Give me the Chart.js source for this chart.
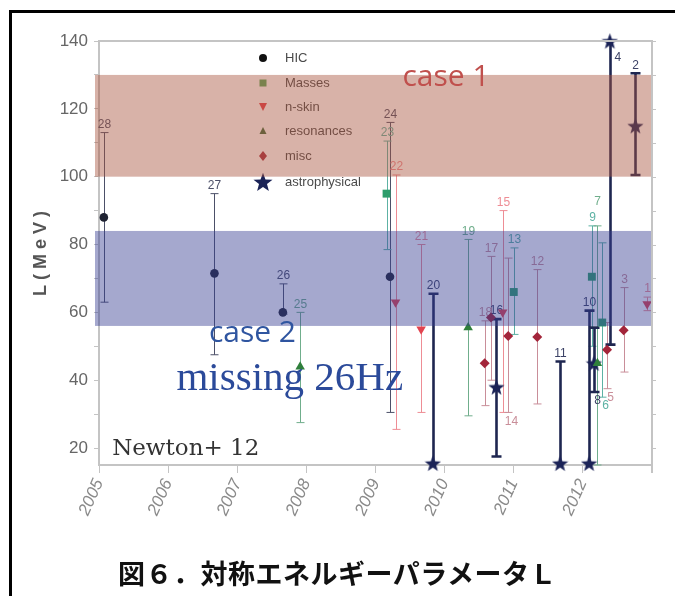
<!DOCTYPE html>
<html>
<head>
<meta charset="utf-8">
<script src="https://cdn.jsdelivr.net/npm/chart.js@4.4.1/dist/chart.umd.min.js"></script>
<style>
  html, body { margin: 0; padding: 0; background: #fff; }
  #wrap { position: relative; width: 675px; height: 596px; overflow: hidden; }
  #frame { position: absolute; left: 9px; top: 10px; width: 700px; height: 620px;
           border-top: 3px solid #000; border-left: 3px solid #000; }
  #c { position: absolute; left: 0; top: 0; }
  #caption { position: absolute; left: 0; top: 555px; width: 675px; text-align: center;
             font-family: "Noto Sans CJK JP", sans-serif; font-size: 27px; font-weight: 700;
             color: #111; line-height: 36px; letter-spacing: 0.5px; }
</style>
</head>
<body>
<div id="wrap">
  <div id="frame"></div>
  <canvas id="c" width="675" height="596"></canvas>
  <div id="caption">図６．対称エネルギーパラメータＬ</div>
</div>
<script>
// Axis ticks
const yearTicks = [2005, 2006, 2007, 2008, 2009, 2010, 2011, 2012, 2013];
const lTicks = [20, 30, 40, 50, 60, 70, 80, 90, 100, 110, 120, 130, 140];

// Shaded ranges of L (MeV)
const case1Band = [100, 130];
const case2Band = [56, 84];

// Heavy-ion collisions
const hicId   = [28, 27, 26, 24];
const hicYear = [2005.07, 2006.67, 2007.66, 2009.21];
const hicL    = [88, 71.5, 60, 70.5];
const hicLo   = [63, 47.5, 59.5, 30.5];
const hicHi   = [113, 95, 68.4, 116];

// Nuclear masses
const massId   = [23, 13, 9, 6];
const massYear = [2009.16, 2011.0, 2012.13, 2012.28];
const massL    = [95, 66, 70.5, 57];
const massLo   = [78.5, 53.5, 50, 35];
const massHi   = [110.5, 79, 85.5, 80.5];

// Neutron skin
const skinId   = [22, 21, 15, 1];
const skinYear = [2009.29, 2009.66, 2010.84, 2012.93];
const skinL    = [63, 55, 60, 62.5];
const skinLo   = [25.5, 30.5, 30.5, 60.5];
const skinHi   = [100.5, 80, 90, 64.5];

// Giant / pygmy resonances
const resId   = [25, 19, 7];
const resYear = [2007.91, 2010.34, 2012.21];
const resL    = [44, 55.5, 45];
const resLo   = [27.5, 29.5, 15];
const resHi   = [60, 81.5, 85.5];

// Miscellaneous
const miscId   = [18, 17, 14, 12, 5, 3];
const miscYear = [2010.58, 2010.67, 2010.92, 2011.34, 2012.35, 2012.59];
const miscL    = [45, 58.5, 53, 52.7, 49, 54.7];
const miscLo   = [32.5, 40, 30.5, 33, 37.5, 42.4];
const miscHi   = [57.5, 76.5, 76, 72.6, 57, 67.3];

// Astrophysical constraints
const astroId   = [20, 16, 11, 10, 8, 4, 2];
const astroYear = [2009.83, 2010.75, 2011.67, 2012.09, 2012.16, 2012.39, 2012.76];
const astroL    = [15.5, 38, 15.5, 15.5, 45, 140, 115];
const astroLo   = [15.5, 17.5, 15.5, 15.5, 36.5, 50.5, 100.5];
const astroHi   = [65.5, 58, 45.5, 60.5, 55.5, 140, 130.5];

// Reference numbers written under / beside / raised above their bars
const labelBelow = [14, 8, 6, 5];
const labelRight = [4];
const labelRaised = [7];

function pts(ids, years, L, lo, hi) {
  return ids.map((id, i) => ({ x: years[i], y: L[i], lo: lo[i], hi: hi[i], id: id }));
}

function makeStar(size, color) {
  const cv = document.createElement('canvas');
  cv.width = size; cv.height = size;
  const g = cv.getContext('2d');
  const cx = size / 2, cy = size / 2 + 0.8, R = size / 2, r = R * 0.42;
  g.beginPath();
  for (let k = 0; k < 10; k++) {
    const rad = k % 2 === 0 ? R : r;
    const a = -Math.PI / 2 + k * Math.PI / 5;
    const px = cx + rad * Math.cos(a), py = cy + rad * Math.sin(a);
    if (k === 0) g.moveTo(px, py); else g.lineTo(px, py);
  }
  g.closePath();
  g.fillStyle = color;
  g.fill();
  return cv;
}
const starImg = makeStar(17, '#1b2357');
const starLegend = makeStar(20, '#1b2357');

const datasets = [
  { label: 'HIC', data: pts(hicId, hicYear, hicL, hicLo, hicHi),
    pointStyle: 'circle', radius: 4.3, backgroundColor: '#1f2333', borderColor: '#1f2333',
    errColor: '#4c5068', errWidth: 1, capW: 4, legendColor: '#111' },
  { label: 'Masses', data: pts(massId, massYear, massL, massLo, massHi),
    pointStyle: 'rect', radius: 5.6, backgroundColor: '#2e9e6c', borderColor: '#2e9e6c',
    errColor: '#5db2a4', errWidth: 1, capW: 4, legendColor: '#55a85a' },
  { label: 'n-skin', data: pts(skinId, skinYear, skinL, skinLo, skinHi),
    pointStyle: 'triangle', rotation: 180, radius: 5.5, backgroundColor: '#e2434f', borderColor: '#e2434f',
    errColor: '#ee8d95', errWidth: 1, capW: 4, legendColor: '#e53e4a' },
  { label: 'resonances', data: pts(resId, resYear, resL, resLo, resHi),
    pointStyle: 'triangle', radius: 5.5, backgroundColor: '#2f7f3b', borderColor: '#2f7f3b',
    errColor: '#70ae8c', errWidth: 1, capW: 4, legendColor: '#3d6b3d' },
  { label: 'misc', data: pts(miscId, miscYear, miscL, miscLo, miscHi),
    pointStyle: 'rectRot', radius: 5, backgroundColor: '#a3253a', borderColor: '#a3253a',
    errColor: '#c98e99', errWidth: 1, capW: 4, legendColor: '#a83040' },
  { label: 'astrophysical', data: pts(astroId, astroYear, astroL, astroLo, astroHi),
    pointStyle: starImg, radius: 8, backgroundColor: '#1b2357', borderColor: '#1b2357',
    errColor: '#1e2650', errWidth: 2.6, capW: 5, legendColor: '#1b2357' }
];
datasets.forEach(d => { d.clip = false; d.borderWidth = 0; d.hoverRadius = d.radius; });

const numFont = '12px "Liberation Sans Narrow", "Liberation Sans", sans-serif';

// Error bars, reference numbers and the inset legend, drawn under the markers
const errorBars = {
  id: 'errorBars',
  beforeDatasetsDraw(chart) {
    const ctx = chart.ctx, xs = chart.scales.x, ys = chart.scales.y, area = chart.chartArea;
    ctx.save();
    // legend
    const lx = area.left + 164, rows = [58, 83, 107, 131, 156, 182];
    ctx.font = '13px "Liberation Sans Narrow", "Liberation Sans", sans-serif';
    ctx.textBaseline = 'middle';
    chart.data.datasets.forEach((d, i) => {
      const y = rows[i];
      ctx.fillStyle = d.legendColor;
      ctx.beginPath();
      if (d.label === 'HIC') { ctx.arc(lx, y, 4, 0, Math.PI * 2); ctx.fill(); }
      else if (d.label === 'Masses') { ctx.fillRect(lx - 3.5, y - 3.5, 7, 7); }
      else if (d.label === 'n-skin') { ctx.moveTo(lx - 4, y - 4); ctx.lineTo(lx + 4, y - 4); ctx.lineTo(lx, y + 4); ctx.fill(); }
      else if (d.label === 'resonances') { ctx.moveTo(lx - 3.5, y + 3); ctx.lineTo(lx + 3.5, y + 3); ctx.lineTo(lx, y - 4); ctx.fill(); }
      else if (d.label === 'misc') { ctx.moveTo(lx, y - 5); ctx.lineTo(lx + 4, y); ctx.lineTo(lx, y + 5); ctx.lineTo(lx - 4, y); ctx.fill(); }
      else { ctx.drawImage(starLegend, lx - 10, y - 10); }
      ctx.fillStyle = '#4a4a4a';
      ctx.fillText(d.label, lx + 22, y);
    });
    // error bars
    chart.data.datasets.forEach(d => {
      ctx.strokeStyle = d.errColor;
      ctx.lineWidth = d.errWidth;
      d.data.forEach(p => {
        const px = Math.round(xs.getPixelForValue(p.x)) + 0.5;
        const pLo = ys.getPixelForValue(p.lo), pHi = ys.getPixelForValue(p.hi);
        ctx.beginPath();
        ctx.moveTo(px, pLo); ctx.lineTo(px, pHi);
        if (p.lo < p.y - 0.01) { ctx.moveTo(px - d.capW, pLo); ctx.lineTo(px + d.capW, pLo); }
        if (p.hi > p.y + 0.01) { ctx.moveTo(px - d.capW, pHi); ctx.lineTo(px + d.capW, pHi); }
        ctx.stroke();
        // reference number
        ctx.fillStyle = d.label === 'astrophysical' ? '#3c4266' : d.errColor;
        ctx.font = numFont;
        if (labelRight.includes(p.id)) {
          ctx.textAlign = 'left'; ctx.textBaseline = 'top';
          ctx.fillText(String(p.id), px + 4, pHi + 11);
        } else if (labelBelow.includes(p.id)) {
          ctx.textAlign = 'center'; ctx.textBaseline = 'top';
          ctx.fillText(String(p.id), px + 3, pLo + 3);
        } else if (labelRaised.includes(p.id)) {
          ctx.textAlign = 'center'; ctx.textBaseline = 'bottom';
          ctx.fillText(String(p.id), px, pHi - 18);
        } else {
          ctx.textAlign = 'center'; ctx.textBaseline = 'bottom';
          ctx.fillText(String(p.id), px, pHi - 2);
        }
      });
    });
    ctx.restore();
  },
  afterDatasetsDraw(chart) {
    const ctx = chart.ctx, xs = chart.scales.x, ys = chart.scales.y, area = chart.chartArea;
    ctx.save();
    // shaded ranges
    const bx0 = area.left - 4, bx1 = area.right + 1;
    ctx.fillStyle = 'rgba(168, 84, 62, 0.45)';
    let t = ys.getPixelForValue(case1Band[1]), b = ys.getPixelForValue(case1Band[0]);
    ctx.fillRect(bx0, t, bx1 - bx0, b - t);
    ctx.fillStyle = 'rgba(55, 62, 146, 0.45)';
    t = ys.getPixelForValue(case2Band[1]); b = ys.getPixelForValue(case2Band[0]);
    ctx.fillRect(bx0, t, bx1 - bx0, b - t);
    // top and right frame with right-hand ticks
    ctx.strokeStyle = '#c4c4c4';
    ctx.lineWidth = 2;
    ctx.beginPath();
    ctx.moveTo(area.left, area.top); ctx.lineTo(area.right, area.top); ctx.lineTo(area.right, area.bottom + 8);
    ctx.stroke();
    ctx.lineWidth = 1;
    ctx.beginPath();
    lTicks.forEach(v => { const y = Math.round(ys.getPixelForValue(v)) + 0.5; ctx.moveTo(area.right, y); ctx.lineTo(area.right + 4, y); });
    ctx.stroke();
    // annotations
    ctx.textAlign = 'center'; ctx.textBaseline = 'middle';
    ctx.font = '30px "Open Sans", sans-serif';
    ctx.fillStyle = '#c0504d';
    ctx.fillText('case 1', xs.getPixelForValue(2010.02), ys.getPixelForValue(129.2));
    ctx.fillStyle = '#2f55a0';
    ctx.fillText('case 2', xs.getPixelForValue(2007.22), ys.getPixelForValue(53.8));
    ctx.font = '41px "Liberation Serif", serif';
    ctx.fillStyle = '#2b4a9a';
    ctx.fillText('missing 26Hz', xs.getPixelForValue(2007.76), ys.getPixelForValue(40.2));
    ctx.font = '23px "DejaVu Serif", serif';
    ctx.fillStyle = '#333';
    ctx.textAlign = 'left';
    ctx.fillText('Newton+ 12', xs.getPixelForValue(2005.19), ys.getPixelForValue(19.6));
    // y axis title
    ctx.save();
    ctx.translate(41, 253);
    ctx.rotate(-Math.PI / 2);
    ctx.font = 'bold 18px "Liberation Sans", sans-serif';
    ctx.letterSpacing = '5px';
    ctx.fillStyle = '#555';
    ctx.textAlign = 'center';
    ctx.fillText('L(MeV)', 2, 0);
    ctx.restore();
    ctx.restore();
  }
};

new Chart(document.getElementById('c'), {
  type: 'scatter',
  data: { datasets: datasets },
  options: {
    responsive: false,
    animation: false,
    devicePixelRatio: 1,
    layout: { padding: { top: 41, right: 23, left: 0, bottom: 0 } },
    plugins: { legend: { display: false }, tooltip: { enabled: false } },
    scales: {
      x: {
        type: 'linear', min: 2005, max: 2013,
        afterBuildTicks: s => { s.ticks = yearTicks.map(v => ({ value: v })); },
        afterFit: s => { s.height = 131; },
        border: { display: true, color: '#c4c4c4', width: 2 },
        grid: { display: true, drawOnChartArea: false, drawTicks: true, tickLength: 8, color: '#c4c4c4' },
        ticks: {
          autoSkip: false, minRotation: 66, maxRotation: 66, padding: 3,
          color: '#8a8a8a',
          font: { family: '"Liberation Sans", sans-serif', size: 17, style: 'italic' },
          callback: v => (v === 2013 ? '' : String(v))
        }
      },
      y: {
        type: 'linear', min: 15, max: 140,
        afterBuildTicks: s => { s.ticks = lTicks.map(v => ({ value: v })); },
        afterFit: s => { s.width = 99; },
        border: { display: true, color: '#c4c4c4', width: 2 },
        grid: { display: true, drawOnChartArea: false, drawTicks: true, tickLength: 5, color: '#c4c4c4' },
        ticks: {
          padding: 6, color: '#666',
          font: { family: '"Liberation Sans Narrow", "Liberation Sans", sans-serif', size: 17 },
          callback: v => (v % 20 === 0 ? String(v) : '')
        }
      }
    }
  },
  plugins: [errorBars]
});
</script>
</body>
</html>
